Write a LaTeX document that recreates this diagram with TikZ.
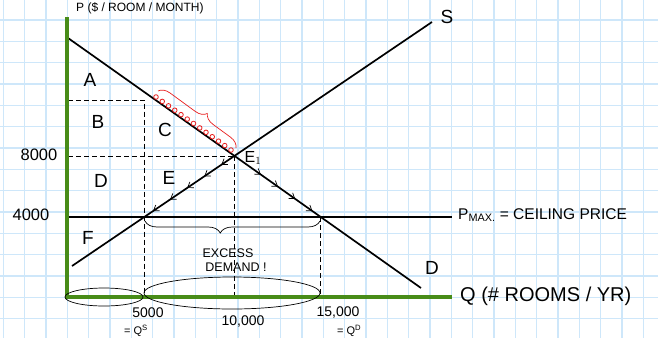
\documentclass[tikz,border=0pt]{standalone}
\usepackage{fontspec}
\setmainfont{Liberation Sans}
\usetikzlibrary{calc,decorations.pathreplacing,decorations.markings}
\definecolor{gridblue}{RGB}{206,231,250}
\definecolor{axisgreen}{RGB}{72,140,24}
\definecolor{penred}{RGB}{232,30,30}
\begin{document}
\begin{tikzpicture}[x=1pt,y=-1pt,
  gridline/.style={gridblue,line width=1.2pt},
  curve/.style={black,line width=1.7pt},
  axisline/.style={axisgreen,line width=3.6pt},
  guide/.style={black,line width=0.7pt,dash pattern=on 5pt off 3pt},
  pen/.style={black,line width=0.7pt},
  hand/.style={font=\fontsize{14}{14}\selectfont,inner sep=0pt},
  big/.style={font=\fontsize{19}{19}\selectfont,inner sep=0pt},
  small/.style={font=\fontsize{12.5}{12.5}\selectfont,inner sep=0pt},
]
\useasboundingbox (0,0) rectangle (658,338);
\fill[white] (0,0) rectangle (658,338);
\foreach \k in {0,...,30} \draw[gridline] ({3.4+21.33*\k},0) -- ({3.4+21.33*\k},338);
\foreach \k in {0,...,16} \draw[gridline] (0,{-1.33+21.33*\k}) -- (658,{-1.33+21.33*\k});

% key points
\coordinate (dA) at (68,38);
\coordinate (dB) at (421,288);
\coordinate (sA) at (72,266);
\coordinate (sB) at (432,22);
\coordinate (cA) at (65,217);
\coordinate (cB) at (452,217);
\coordinate (E1) at (intersection of dA--dB and sA--sB);
\coordinate (Qs) at (intersection of cA--cB and sA--sB);
\coordinate (Qd) at (intersection of cA--cB and dA--dB);
\coordinate (yTop) at (67,17);
\coordinate (O) at (67,297);
\coordinate (xEnd) at (452,297);
\coordinate (h1) at (68,100);
\coordinate (h2) at (68,0 |- E1);

% dashed guides
\draw[guide] (h1) -- (Qs |- h1) -- (Qs |- O);
\draw[guide] (h2) -- (E1);
\draw[guide] (E1) -- (E1 |- O);
\draw[guide] (Qd) -- (Qd |- O);

% curves
\draw[curve] (dA) -- (dB);
\draw[curve] (sA) -- (sB);
\draw[curve] (cA) -- (cB);

% movement marks
\path[decorate,decoration={markings,
  mark=between positions 0.14 and 0.95 step 0.19 with {\draw[pen] (-5pt,3.5pt) -- (0,0) -- (-5pt,-3.5pt);}}] (E1) -- (Qs);
\path[decorate,decoration={markings,
  mark=between positions 0.3 and 0.95 step 0.2 with {\draw[pen] (-5pt,3.5pt) -- (0,0) -- (-5pt,-3.5pt);}}] (E1) -- (Qd);

% red circles and brace
\foreach \t in {0,...,12} \draw[penred,line width=0.8pt] ($(156,97)!\t/12!(231,150)$) circle [radius=2.3pt];
\draw[penred,line width=0.7pt,decorate,decoration={brace,amplitude=11pt,aspect=0.55}] (158,91) -- (236,148);

% black brace
\draw[pen,decorate,decoration={brace,amplitude=12pt,aspect=0.57}] (320,221) -- (145,221);

% axes
\draw[axisline] (yTop) -- (O) -- (xEnd);

% loops on quantity axis
\draw[pen] (104,297) ellipse [x radius=39pt, y radius=9pt];
\draw[pen] (232,293) ellipse [x radius=88pt, y radius=16pt];

% labels
\node[anchor=north west,font=\fontsize{12}{12}\selectfont,inner sep=0pt] (ytitle) at (76,2) {P (\$ / ROOM / MONTH)};
\node[big] (lA) at (90,80) {A};
\node[big] (lB) at (98,122) {B};
\node[big] (lC) at (165,130) {C};
\node[big] (lD) at (101,181) {D};
\node[big] (lE) at (169,178) {E};
\node[big] (lF) at (88,238) {F};
\node[hand,font=\fontsize{16}{16}\selectfont] (lE1) at (253,158) {E$_1$};
\node[big] (lS) at (447,17) {S};
\node[big] (lDem) at (432,268) {D};
\node[hand,font=\fontsize{16.5}{16.5}\selectfont] (p8000) at (39,155) {8000};
\node[hand,font=\fontsize{16.5}{16.5}\selectfont] (p4000) at (31,215) {4000};
\node[hand,anchor=west,font=\fontsize{15.5}{15.5}\selectfont] (pmax) at (458,215) {P\textsubscript{MAX.} = CEILING PRICE};
\node[hand,anchor=west,font=\fontsize{20}{20}\selectfont] (qlabel) at (460,296) {Q (\# ROOMS / YR)};
\node[small] (ex1) at (228,253) {EXCESS};
\node[small] (ex2) at (236,267) {DEMAND !};
\node[hand] (q5000) at (148,313) {5000};
\node[hand] (q10000) at (243,322) {10,000};
\node[hand] (q15000) at (338,312) {15,000};
\node[hand,anchor=south west,font=\fontsize{11}{11}\selectfont] (qS) at (124,337) {= Q\textsuperscript{S}};
\node[hand,anchor=south west,font=\fontsize{11}{11}\selectfont] (qD) at (337,337) {= Q\textsuperscript{D}};
\end{tikzpicture}
\end{document}
